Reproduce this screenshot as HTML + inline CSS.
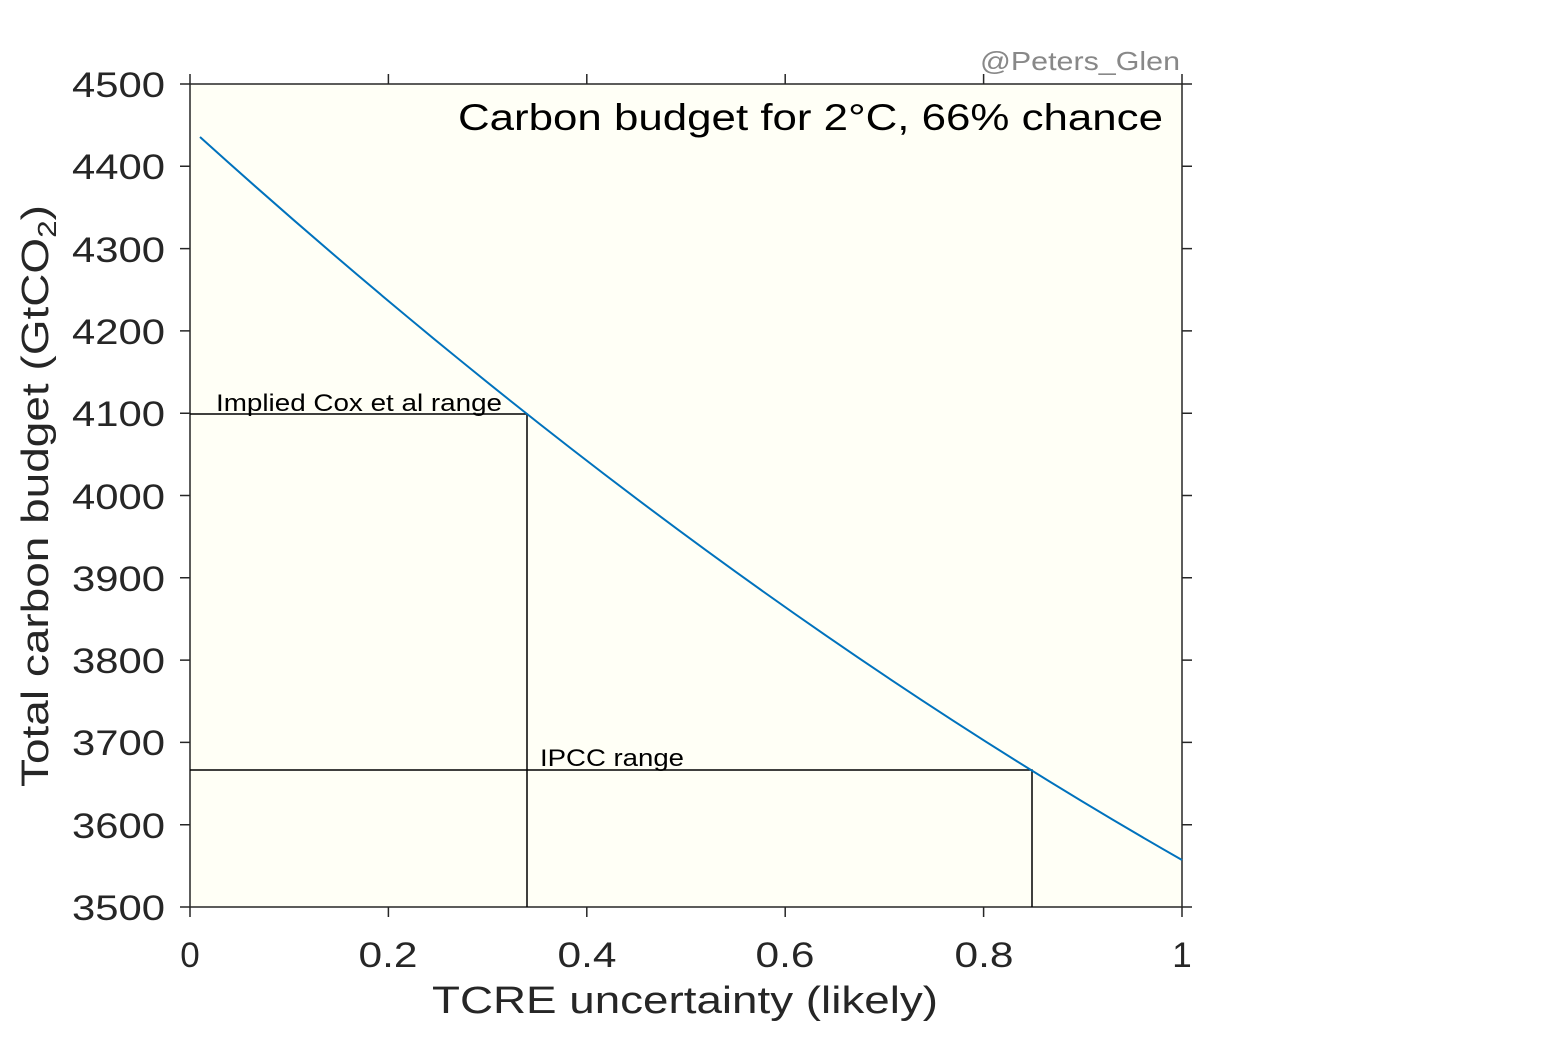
<!DOCTYPE html>
<html><head><style>body{margin:0;background:#fff}</style></head><body>
<svg width="1563" height="1042" xmlns="http://www.w3.org/2000/svg" font-family="Liberation Sans, sans-serif">
<rect width="1563" height="1042" fill="#fff"/>
<rect x="190" y="84" width="992" height="823" fill="#fffff6"/>
<g stroke="#262626" stroke-width="1.5" fill="none">
<rect x="190" y="84" width="992" height="823"/>
<path d="M190 907v10M388.4 907v10M586.8 907v10M785.2 907v10M983.6 907v10M1182 907v10M190 84v-10M388.4 84v-10M586.8 84v-10M785.2 84v-10M983.6 84v-10M1182 84v-10"/>
<path d="M180 84h10M180 166.3h10M180 248.6h10M180 330.9h10M180 413.2h10M180 495.5h10M180 577.8h10M180 660.1h10M180 742.4h10M180 824.7h10M180 907h10M1182 84h10M1182 166.3h10M1182 248.6h10M1182 330.9h10M1182 413.2h10M1182 495.5h10M1182 577.8h10M1182 660.1h10M1182 742.4h10M1182 824.7h10M1182 907h10"/>
</g>
<g stroke="#000" stroke-width="1.5" fill="none">
<path d="M190 414H527V907M190 770H1032V907"/>
</g>
<path d="M200 137Q691 580 1182 860" stroke="#0072bd" stroke-width="2" fill="none"/>
<g fill="#262626" font-size="35" text-anchor="end" lengthAdjust="spacingAndGlyphs">
<text x="165" y="97" textLength="93" lengthAdjust="spacingAndGlyphs">4500</text><text x="165" y="179" textLength="93" lengthAdjust="spacingAndGlyphs">4400</text><text x="165" y="262" textLength="93" lengthAdjust="spacingAndGlyphs">4300</text><text x="165" y="344" textLength="93" lengthAdjust="spacingAndGlyphs">4200</text><text x="165" y="426" textLength="93" lengthAdjust="spacingAndGlyphs">4100</text><text x="165" y="509" textLength="93" lengthAdjust="spacingAndGlyphs">4000</text><text x="165" y="591" textLength="93" lengthAdjust="spacingAndGlyphs">3900</text><text x="165" y="673" textLength="93" lengthAdjust="spacingAndGlyphs">3800</text><text x="165" y="755" textLength="93" lengthAdjust="spacingAndGlyphs">3700</text><text x="165" y="838" textLength="93" lengthAdjust="spacingAndGlyphs">3600</text><text x="165" y="920" textLength="93" lengthAdjust="spacingAndGlyphs">3500</text>
</g>
<g fill="#262626" font-size="35" text-anchor="middle">
<text x="190" y="967">0</text><text x="388" y="967" textLength="59" lengthAdjust="spacingAndGlyphs">0.2</text><text x="587" y="967" textLength="59" lengthAdjust="spacingAndGlyphs">0.4</text><text x="785" y="967" textLength="59" lengthAdjust="spacingAndGlyphs">0.6</text><text x="984" y="967" textLength="59" lengthAdjust="spacingAndGlyphs">0.8</text><text x="1182" y="967">1</text>
<text x="685" y="1013" font-size="38" textLength="506" lengthAdjust="spacingAndGlyphs">TCRE uncertainty (likely)</text>
<text transform="translate(48,496) rotate(-90)" font-size="38" text-anchor="start" x="-291" textLength="582" lengthAdjust="spacingAndGlyphs">Total carbon budget (GtCO<tspan font-size="26" dy="8">2</tspan><tspan dy="-8">)</tspan></text>
</g>
<text x="458" y="130" font-size="37" fill="#000" textLength="705" lengthAdjust="spacingAndGlyphs">Carbon budget for 2°C, 66% chance</text>
<text x="980" y="70" font-size="26" fill="#888" textLength="200" lengthAdjust="spacingAndGlyphs">@Peters_Glen</text>
<text x="216" y="411" font-size="24" fill="#000" textLength="286" lengthAdjust="spacingAndGlyphs">Implied Cox et al range</text>
<text x="540" y="766" font-size="24" fill="#000" textLength="144" lengthAdjust="spacingAndGlyphs">IPCC range</text>
</svg>
</body></html>
